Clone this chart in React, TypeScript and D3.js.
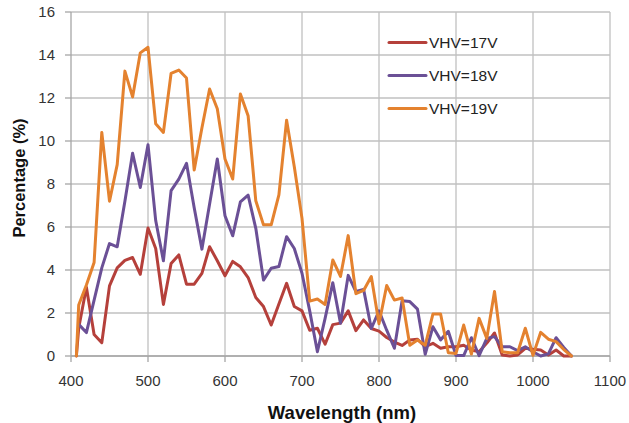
import React from "react";
import * as d3 from "d3";

const wavelengths = [407, 410, 420, 430, 440, 450, 460, 470, 480, 490, 500, 510, 520, 530, 540, 550, 560, 570, 580, 590, 600, 610, 620, 630, 640, 650, 660, 670, 680, 690, 700, 710, 720, 730, 740, 750, 760, 770, 780, 790, 800, 810, 820, 830, 840, 850, 860, 870, 880, 890, 900, 910, 920, 930, 940, 950, 960, 970, 980, 990, 1000, 1010, 1020, 1030, 1040, 1050];

const vhv17 = [0, 1.3, 3.2, 1.0, 0.62, 3.26, 4.1, 4.45, 4.58, 3.8, 5.95, 5.0, 2.4, 4.3, 4.7, 3.34, 3.34, 3.84, 5.08, 4.43, 3.73, 4.4, 4.15, 3.65, 2.72, 2.3, 1.44, 2.42, 3.38, 2.3, 2.1, 1.2, 1.29, 0.55, 1.46, 1.53, 2.1, 1.18, 1.68, 1.28, 1.16, 0.86, 0.65, 0.49, 0.74, 0.78, 0.43, 0.59, 0.36, 0.43, 0.43, 0.5, 0.28, 0.2, 0.6, 1.07, 0.05, 0, 0.05, 0.36, 0.31, 0.28, 0.05, 0.28, 0, 0];

const vhv18 = [null, 1.47, 1.09, 2.6, 4.1, 5.23, 5.08, 7.2, 9.43, 7.84, 9.83, 6.3, 4.43, 7.69, 8.23, 8.96, 6.9, 4.97, 7.07, 9.16, 6.52, 5.59, 7.17, 7.48, 5.94, 3.53, 4.08, 4.16, 5.55, 5.0, 3.85, 2.1, 0.2, 1.75, 3.41, 1.52, 3.75, 3.0, 3.1, 1.28, 2.1, 1.2, 0.36, 2.57, 2.53, 2.18, 0.08, 1.36, 0.75, 1.15, 0.02, 0.02, 0.85, 0.02, 0.82, 0.9, 0.43, 0.43, 0.25, 0.43, 0.2, 0, 0.1, 0.85, 0.4, 0];

const vhv19 = [0, 2.37, 3.3, 4.35, 10.4, 7.2, 8.9, 13.25, 12.05, 14.1, 14.36, 10.8, 10.4, 13.15, 13.3, 12.93, 8.65, 10.6, 12.42, 11.5, 9.16, 8.23, 12.19, 11.18, 7.22, 6.1, 6.1, 7.49, 10.97, 8.8, 6.4, 2.55, 2.65, 2.4, 4.47, 3.7, 5.6, 2.9, 3.05, 3.7, 1.5, 3.28, 2.6, 2.7, 0.5, 0.74, 0.5, 1.95, 1.95, 0.15, 0.12, 1.44, 0.09, 1.75, 0.82, 3.0, 0.2, 0.15, 0.15, 1.29, 0.03, 1.1, 0.78, 0.67, 0.3, 0];

const seriesNames = ["VHV=17V", "VHV=18V", "VHV=19V"];
const seriesColors = ["#B5403B", "#6B5096", "#E4822F"];
const xTicks = [400, 500, 600, 700, 800, 900, 1000, 1100];
const yTicks = [0, 2, 4, 6, 8, 10, 12, 14, 16];

export default function App() {
  const W = 629, H = 423;
  const x = d3.scaleLinear().domain([400, 1100]).range([71, 610]);
  const y = d3.scaleLinear().domain([0, 16]).range([356, 12]);
  const allSeries = [vhv17, vhv18, vhv19];
  const line = d3
    .line<[number, number | null]>()
    .defined((d) => d[1] !== null)
    .x((d) => x(d[0]))
    .y((d) => y(d[1] as number));

  const font = "'Liberation Sans', Arial, sans-serif";
  const gridColor = "#c0c0c0";
  const axisColor = "#a6a6a6";
  const textColor = "#333";

  return (
    <svg
      width={W}
      height={H}
      style={{ position: "absolute", left: 0, top: 0, background: "#fff" }}
    >
      {yTicks.map((t) => (
        <line key={"gy" + t} x1={x(400)} x2={x(1100)} y1={y(t)} y2={y(t)} stroke={gridColor} strokeWidth={1.3} />
      ))}
      {xTicks.map((t) => (
        <line key={"gx" + t} x1={x(t)} x2={x(t)} y1={y(0)} y2={y(16)} stroke={t === 400 ? axisColor : gridColor} strokeWidth={1.3} />
      ))}
      <line x1={x(400)} x2={x(1100)} y1={y(0)} y2={y(0)} stroke={axisColor} strokeWidth={1.3} />
      {yTicks.map((t) => (
        <line key={"ty" + t} x1={x(400) - 6} x2={x(400)} y1={y(t)} y2={y(t)} stroke={axisColor} strokeWidth={1.3} />
      ))}
      {xTicks.map((t) => (
        <line key={"tx" + t} x1={x(t)} x2={x(t)} y1={y(0)} y2={y(0) + 6} stroke={axisColor} strokeWidth={1.3} />
      ))}
      {yTicks.map((t) => (
        <text key={"ly" + t} x={55} y={y(t) + 5} textAnchor="end" fontFamily={font} fontSize={15} fill={textColor}>
          {t}
        </text>
      ))}
      {xTicks.map((t) => (
        <text key={"lx" + t} x={x(t)} y={386} textAnchor="middle" fontFamily={font} fontSize={15} fill={textColor}>
          {t}
        </text>
      ))}
      {allSeries.map((s, i) => (
        <path
          key={"s" + i}
          d={line(wavelengths.map((w, j) => [w, s[j]] as [number, number | null])) || ""}
          fill="none"
          stroke={seriesColors[i]}
          strokeWidth={3}
          strokeLinejoin="round"
          strokeLinecap="round"
        />
      ))}
      {seriesNames.map((n, i) => (
        <g key={"lg" + i}>
          <line x1={389} x2={426} y1={42.5 + i * 33} y2={42.5 + i * 33} stroke={seriesColors[i]} strokeWidth={3} strokeLinecap="round" />
          <text x={429} y={48 + i * 33} fontFamily={font} fontSize={15.5} fill="#222">
            {n}
          </text>
        </g>
      ))}
      <text
        x={342}
        y={419}
        textAnchor="middle"
        fontFamily={font}
        fontWeight="bold"
        fontSize={18.5}
        fill="#111"
      >
        Wavelength (nm)
      </text>
      <text
        transform="translate(25,178) rotate(-90)"
        textAnchor="middle"
        fontFamily={font}
        fontWeight="bold"
        fontSize={16.5}
        fill="#111"
      >
        Percentage (%)
      </text>
    </svg>
  );
}
